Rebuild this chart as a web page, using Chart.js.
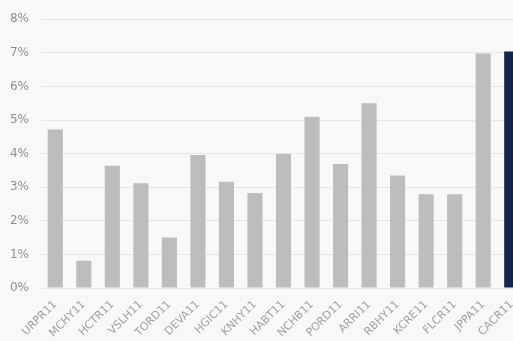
<!DOCTYPE html>
<html>
<head>
<meta charset="utf-8">
<script src="https://cdn.jsdelivr.net/npm/chart.js@4"></script>
<style>
html,body{margin:0;padding:0;background:#f8f8f9;overflow:hidden;}
#wrap{width:530px;height:341px;position:relative;}
</style>
</head>
<body>
<div id="wrap"><canvas id="barChart" width="530" height="341"></canvas></div>
<script>
// dividend yield per fund
var labels = ["URPR11","MCHY11","HCTR11","VSLH11","TORD11","DEVA11","HGIC11","KNHY11","HABT11","NCHB11","PORD11","ARRI11","RBHY11","KCRE11","FLCR11","JPPA11","CACR11"];
var yields = [4.72, 0.81, 3.64, 3.12, 1.50, 3.96, 3.16, 2.83, 3.99, 5.10, 3.69, 5.50, 3.35, 2.79, 2.79, 6.98, 7.04];
var yTicks = [0, 1, 2, 3, 4, 5, 6, 7, 8];

var cols = labels.map(function(l){ return l == "CACR11" ? "#14244a" : "#bdbdbd"; });

var ctx = document.getElementById("barChart").getContext('2d');
var chart = new Chart(ctx, {
	type: 'bar',
	data: {
		labels: labels,
		datasets: [{
			data: yields,
			backgroundColor: cols,
			barPercentage: 0.53,
			categoryPercentage: 1
		}]
	},
	options: {
		responsive: false,
		animation: false,
		layout: { padding: { top: 19, right: 4, left: 0, bottom: 0 } },
		plugins: { legend: { display: false }, tooltip: { enabled: false } },
		scales: {
			x: {
				grid: { display: false },
				border: { display: false },
				ticks: {
					color: '#a0a0a0',
					font: { family: 'DejaVu Sans', size: 11 },
					maxRotation: 45, minRotation: 45,
					padding: 2
				},
				afterFit: function(s){ s.height = 53; }
			},
			y: {
				min: 0, max: 8,
				grid: { color: '#e6e6e8', drawTicks: false },
				border: { display: false },
				ticks: {
					stepSize: 1,
					color: '#8f8f8f',
					font: { family: 'DejaVu Sans', size: 12 },
					padding: 12,
					callback: function(v){ return yTicks.indexOf(v) >= 0 ? v + '%' : ''; }
				},
				afterFit: function(s){ s.width = 41; }
			}
		}
	}
});
</script>
</body>
</html>
